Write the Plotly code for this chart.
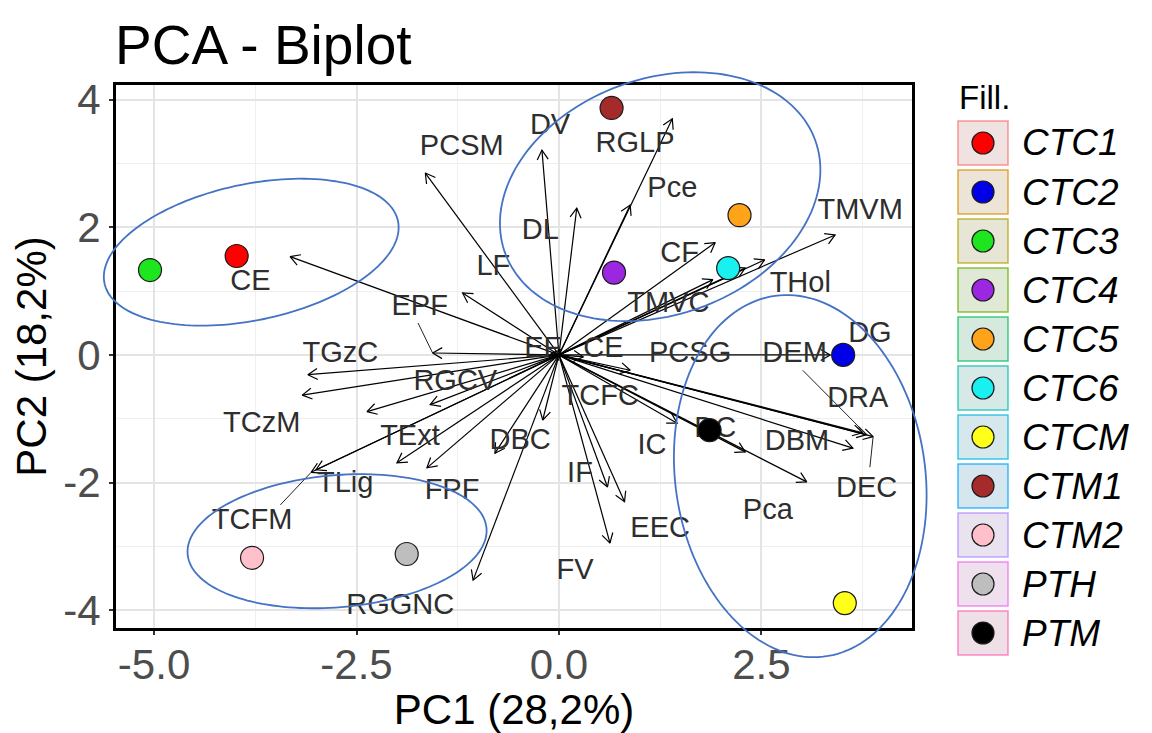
import numpy as np
import plotly.graph_objects as go

# ---------------- data ----------------
groups = ["CTC1", "CTC2", "CTC3", "CTC4", "CTC5", "CTC6", "CTCM", "CTM1", "CTM2", "PTH", "PTM"]
pc1 = [-3.98, 3.51, -5.05, 0.68, 2.23, 2.09, 3.53, 0.65, -3.79, -1.88, 1.86]
pc2 = [1.55, 0.00, 1.33, 1.29, 2.19, 1.36, -3.89, 3.87, -3.18, -3.12, -1.18]
fill_colors = ["#FF0000", "#0000E6", "#1EE61E", "#9B28E0", "#FFA31A", "#19F0F0",
               "#FFFF19", "#A52A2A", "#FFC0CB", "#BEBEBE", "#000000"]
key_colors = ["#F8766D", "#DB8E00", "#AEA200", "#64B200", "#00BD5C", "#00C1A7",
              "#00BADE", "#00A6FF", "#B385FF", "#EF67EB", "#FF63B6"]

variables = ["PCSM", "DV", "DL", "RGLP", "Pce", "CF", "TMVM", "THol", "TMVC", "",
             "LF", "EPF", "CE", "TGzC", "TCzM", "RGCV", "", "TExt", "FPF", "TLig",
             "TCFM", "DBC", "TCFC", "RGGNC", "IF", "EEC", "FV", "IC", "DC", "Pca",
             "DBM", "DRA", "DEM", "DEC", "DG", "PCSG", "EF", "CE"]
var_x = [-1.65, -0.21, 0.22, 1.40, 0.88, 1.93, 3.41, 2.54, 1.90, 2.30,
         -1.19, -1.56, -3.32, -3.10, -3.17, -1.59, -2.37, -2.00, -1.63, -3.00,
         -3.06, -0.79, -0.20, -1.06, 0.60, 0.81, 0.63, 1.46, 2.30, 3.06,
         3.63, 3.75, 3.80, 3.88, 3.35, 0.88, -0.10, 0.30]
var_y = [2.85, 3.21, 2.30, 3.70, 2.35, 1.76, 1.88, 1.49, 1.18, 1.36,
         0.97, 0.03, 1.54, -0.31, -0.63, -0.78, -0.89, -1.69, -1.77, -1.80,
         -1.84, -1.54, -1.02, -3.53, -2.07, -2.30, -2.95, -1.07, -1.52, -1.99,
         -1.46, -1.22, -1.25, -1.28, 0.00, -0.24, 0.02, -0.03]
lab_x = [-1.20, -0.11, -0.23, 0.94, 1.40, 1.49, 3.72, 2.98, 1.35, None,
         -0.81, -1.72, -3.81, -2.70, -3.67, -1.28, None, -1.84, -1.32, -2.64,
         -3.79, -0.48, 0.51, -1.96, 0.26, 1.25, 0.20, 1.15, 1.93, 2.58,
         2.94, 3.69, 2.91, 3.80, 3.84, 1.62, -0.20, 0.55]
lab_y = [3.24, 3.57, 1.93, 3.29, 2.59, 1.57, 2.24, 1.10, 0.78, None,
         1.36, 0.74, 1.13, 0.00, -1.10, -0.44, None, -1.30, -2.15, -2.04,
         -2.62, -1.36, -0.67, -3.95, -1.88, -2.74, -3.40, -1.44, -1.18, -2.46,
         -1.38, -0.71, 0.00, -2.12, 0.31, 0.00, 0.08, 0.08]
# repel leader segments (start point near the label), None where there is none
seg_x = [None] * 11 + [-1.74] + [None] * 8 + [-3.44] + [None] * 11 + [3.01, 3.84, None, None, None, None]
seg_y = [None] * 11 + [0.50] + [None] * 8 + [-2.35] + [None] * 11 + [-0.24, -1.76, None, None, None, None]

x_ticks = [-5.0, -2.5, 0.0, 2.5]
x_ticktext = ["-5.0", "-2.5", "0.0", "2.5"]
y_ticks = [-4, -2, 0, 2, 4]
y_ticktext = ["-4", "-2", "0", "2", "4"]

# hand-drawn highlight ellipses: centre (data), semi-axes (px), rotation (deg)
ell_cx = [-3.80, 1.25, -2.74, 2.98]
ell_cy = [1.61, 2.48, -2.92, -1.90]
ell_a = [150, 165, 150, 182]
ell_b = [68, 118, 66, 125]
ell_t = [12, 20, 5, 98]

# ---------------- geometry / layout constants ----------------
W, H = 1152, 733
ML, MR, MT, MB = 116, 240, 85, 105
PW, PH = W - ML - MR, H - MT - MB
X_RANGE = [-5.47, 4.36]
Y_RANGE = [-4.28, 4.23]
sx = PW / (X_RANGE[1] - X_RANGE[0])
sy = PH / (Y_RANGE[1] - Y_RANGE[0])
FONT = "Liberation Sans, Arial, sans-serif"

fig = go.Figure()

# arrows (shafts + open heads)
shaft_x, shaft_y, head_x, head_y = [], [], [], []
HEAD = 11
ang = np.radians(30)
for tx, ty in zip(var_x, var_y):
    shaft_x += [0, tx, None]
    shaft_y += [0, ty, None]
    px, py = tx * sx, ty * sy
    L = np.hypot(px, py)
    ux, uy = px / L, py / L
    pts = []
    for a in (ang, -ang):
        rx = ux * np.cos(a) - uy * np.sin(a)
        ry = ux * np.sin(a) + uy * np.cos(a)
        pts.append((tx - HEAD * rx / sx, ty - HEAD * ry / sy))
    head_x += [pts[0][0], tx, pts[1][0], None]
    head_y += [pts[0][1], ty, pts[1][1], None]

seg_lx, seg_ly = [], []
for sx0, sy0, tx, ty in zip(seg_x, seg_y, var_x, var_y):
    if sx0 is not None:
        seg_lx += [sx0, tx, None]
        seg_ly += [sy0, ty, None]

fig.add_trace(go.Scatter(x=shaft_x, y=shaft_y, mode="lines",
                         line=dict(color="black", width=1.2), hoverinfo="skip", showlegend=False))
fig.add_trace(go.Scatter(x=head_x, y=head_y, mode="lines",
                         line=dict(color="black", width=1.2), hoverinfo="skip", showlegend=False))
fig.add_trace(go.Scatter(x=seg_lx, y=seg_ly, mode="lines",
                         line=dict(color="#222222", width=1), hoverinfo="skip", showlegend=False))

# variable labels
lx = [x for x, t in zip(lab_x, variables) if t]
ly = [y for y, t in zip(lab_y, variables) if t]
lt = [t for t in variables if t]
fig.add_trace(go.Scatter(x=lx, y=ly, mode="text", text=lt,
                         textfont=dict(family=FONT, size=29, color="#2E2E2E"),
                         cliponaxis=False, hoverinfo="skip", showlegend=False))

# individuals
fig.add_trace(go.Scatter(x=pc1, y=pc2, mode="markers", text=groups,
                         marker=dict(size=23, color=fill_colors, line=dict(color="#1A1A1A", width=1.2)),
                         showlegend=False))

shapes = []
# dashed zero lines
shapes.append(dict(type="line", xref="x", yref="paper", x0=0, x1=0, y0=0, y1=1,
                   line=dict(color="black", width=1.5, dash="dash"), layer="between"))
shapes.append(dict(type="line", xref="paper", yref="y", x0=0, x1=1, y0=0, y1=0,
                   line=dict(color="black", width=1.5, dash="dash"), layer="between"))

# ellipses (paper coordinates so they are not clipped)
t = np.linspace(0, 2 * np.pi, 160)
for cx, cy, a, b, th in zip(ell_cx, ell_cy, ell_a, ell_b, ell_t):
    thr = np.radians(th)
    ex = a * np.cos(t) * np.cos(thr) - b * np.sin(t) * np.sin(thr)
    ey = a * np.cos(t) * np.sin(thr) + b * np.sin(t) * np.cos(thr)
    X = cx + ex / sx
    Y = cy + ey / sy
    pxs = (X - X_RANGE[0]) / (X_RANGE[1] - X_RANGE[0])
    pys = (Y - Y_RANGE[0]) / (Y_RANGE[1] - Y_RANGE[0])
    path = "M " + " L ".join(f"{u:.5f},{v:.5f}" for u, v in zip(pxs, pys)) + " Z"
    shapes.append(dict(type="path", xref="paper", yref="paper", path=path,
                       line=dict(color="#4472C4", width=1.8), layer="above"))

# manual legend
def px2paper_x(p):
    return (p - ML) / PW

def py2paper_y(p):
    return (MT + PH - p) / PH

annotations = []
annotations.append(dict(x=px2paper_x(957), y=py2paper_y(97), xref="paper", yref="paper",
                        text="Fill.", showarrow=False, xanchor="left", yanchor="middle",
                        font=dict(family=FONT, size=33, color="black")))
for i, (g, fc, kc) in enumerate(zip(groups, fill_colors, key_colors)):
    cyp = 143 + 49 * i
    r, gg, bb = int(kc[1:3], 16), int(kc[3:5], 16), int(kc[5:7], 16)
    mix = lambda c: int(238 + (c - 238) * 0.10)
    shapes.append(dict(type="rect", xref="paper", yref="paper",
                       x0=px2paper_x(958), x1=px2paper_x(1008),
                       y0=py2paper_y(cyp + 22), y1=py2paper_y(cyp - 22),
                       fillcolor=f"rgb({mix(r)},{mix(gg)},{mix(bb)})",
                       line=dict(color=f"rgba({r},{gg},{bb},0.75)", width=1.5)))
    shapes.append(dict(type="circle", xref="paper", yref="paper",
                       xsizemode="pixel", ysizemode="pixel",
                       xanchor=px2paper_x(983), yanchor=py2paper_y(cyp),
                       x0=-11, x1=11, y0=-11, y1=11,
                       fillcolor=fc, line=dict(color="#1A1A1A", width=1.2)))
    annotations.append(dict(x=px2paper_x(1020), y=py2paper_y(cyp), xref="paper", yref="paper",
                            text=f"<i>{g}</i>", showarrow=False, xanchor="left", yanchor="middle",
                            font=dict(family=FONT, size=37, color="black")))

fig.update_layout(
    width=W, height=H,
    margin=dict(l=ML, r=MR, t=MT, b=MB, pad=0),
    paper_bgcolor="white", plot_bgcolor="white",
    title=dict(text="PCA - Biplot", x=115 / W, xanchor="left", xref="container",
               y=1 - 45 / H, yanchor="middle", yref="container",
               font=dict(family=FONT, size=55, color="black")),
    xaxis=dict(range=X_RANGE, tickvals=x_ticks, ticktext=x_ticktext,
               showgrid=True, gridcolor="#E4E4E4", gridwidth=1.5,
               minor=dict(dtick=1.25, tick0=0, showgrid=True, gridcolor="#EFEFEF", gridwidth=1.2),
               zeroline=False, showline=True, mirror=True, linecolor="black", linewidth=3,
               ticks="outside", ticklen=4, tickwidth=1.5, tickcolor="#333333",
               ticklabelstandoff=-6,
               tickfont=dict(family=FONT, size=42, color="#4D4D4D"),
               title=dict(text="PC1 (28,2%)", standoff=8, font=dict(family=FONT, size=42, color="black")),
               automargin=False),
    yaxis=dict(range=Y_RANGE, tickvals=y_ticks, ticktext=y_ticktext,
               showgrid=True, gridcolor="#E4E4E4", gridwidth=1.5,
               minor=dict(dtick=1, tick0=0, showgrid=True, gridcolor="#EFEFEF", gridwidth=1.2),
               zeroline=False, showline=True, mirror=True, linecolor="black", linewidth=3,
               ticks="outside", ticklen=4, tickwidth=1.5, tickcolor="#333333",
               tickfont=dict(family=FONT, size=42, color="#4D4D4D"),
               title=dict(text="PC2 (18,2%)", standoff=4, font=dict(family=FONT, size=42, color="black")),
               automargin=False),
    shapes=shapes,
    annotations=annotations,
)

fig.write_html("out.html", config={"displayModeBar": False},
               post_script="document.body.style.margin='0';document.body.style.padding='0';")
